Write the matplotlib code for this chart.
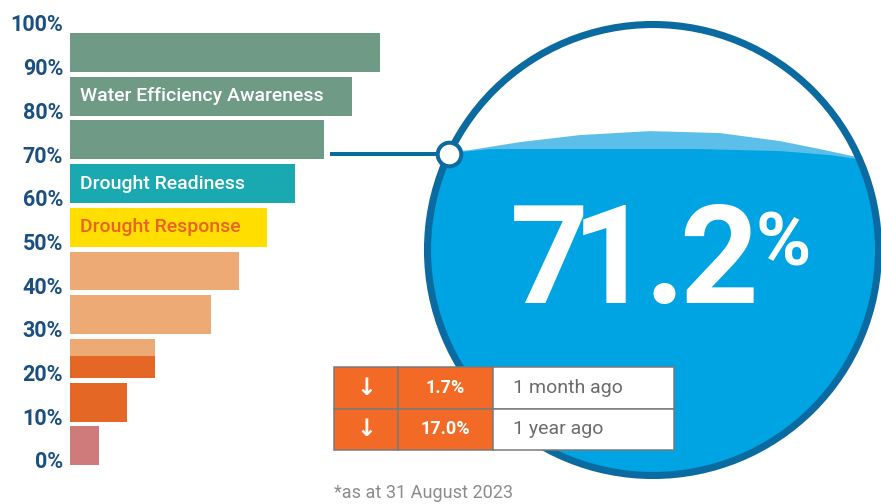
import numpy as np
import matplotlib
matplotlib.use("Agg")
import matplotlib.pyplot as plt
from matplotlib.patches import Circle, Rectangle, Polygon

plt.rcParams["font.family"] = ["Roboto", "DejaVu Sans"]

# storage level bands (% of capacity) and the length of each bar
band_lo = [0, 10, 20, 25, 30, 40, 50, 60, 70, 80, 90]
band_hi = [10, 20, 25, 30, 40, 50, 60, 70, 80, 90, 100]
bar_len = [29, 57, 85, 85, 141, 169, 197, 225, 254, 282, 310]
band_col = ["#cf7b7c", "#e56726", "#e56726", "#eeaa74", "#eeaa74", "#eeaa74",
            "#ffde00", "#1aa9b0", "#6f9a86", "#6f9a86", "#6f9a86"]

ticks = [0, 10, 20, 30, 40, 50, 60, 70, 80, 90, 100]
tick_labels = [f"{t}%" for t in ticks]

zone_names = ["Drought Response", "Drought Readiness", "Water Efficiency Awareness"]
zone_at = [50, 60, 80]
zone_txt_col = ["#e8622a", "white", "white"]

storage = 71.2
changes = ["1.7%", "17.0%"]
periods = ["1 month ago", "1 year ago"]
note = "*as at 31 August 2023"

dark_blue = "#0b6aa0"
water = "#00a4e3"
wave = "#5bbfe9"
orange = "#f26a25"

W, H = 881, 504
fig = plt.figure(figsize=(W / 100, H / 100), dpi=100)

# ---- bar scale
ax = fig.add_axes([70 / W, 0, (W - 70) / W, 1])
ax.set_xlim(0, W - 70)
ax.set_ylim(-10.07, 105.26)
off = 1.2
gap = 1.1
for lo, hi, ln, c in zip(band_lo, band_hi, bar_len, band_col):
    top = hi - off - (gap if hi % 10 == 0 else 0)
    ax.barh(lo - off, ln, height=top - (lo - off), left=0, align="edge",
            color=c, linewidth=0)
for name, lvl, tc in zip(zone_names, zone_at, zone_txt_col):
    yc = lvl - off + (10 - gap) / 2
    ax.text(10, yc, name, color=tc, fontsize=14, fontweight="medium",
            va="center", ha="left")
ax.set_yticks(ticks)
ax.set_yticklabels(tick_labels, fontsize=15.5, fontweight="bold", color="#1b4f80")
ax.tick_params(axis="y", length=0, pad=5)
ax.set_xticks([])
for s in ax.spines.values():
    s.set_visible(False)
ax.patch.set_alpha(0)

# ---- gauge overlay in pixel space
ov = fig.add_axes([0, 0, 1, 1], zorder=2)
ov.set_xlim(0, W)
ov.set_ylim(H, 0)
ov.axis("off")
ov.patch.set_alpha(0)

fig.canvas.draw()
disp = ax.transData.transform((0, storage - off))
ly = ov.transData.inverted().transform(disp)[1]

cx, cy, r = 653, 250, 225.5
ov.add_patch(Circle((cx, cy), r, fc="white", ec="none", zorder=1))
clip = Circle((cx, cy), r, transform=ov.transData)

light_top = [(430, 0), (470, -4), (520, -12), (580, -19), (650, -23),
             (720, -21), (780, -13), (820, -5), (885, 9)]
water_top = [(430, 1), (490, -5), (700, -5), (780, -3), (830, 1), (885, 9)]
for pts, c in [(light_top, wave), (water_top, water)]:
    poly = [(x, ly + d) for x, d in pts] + [(885, 500), (430, 500)]
    p = Polygon(poly, closed=True, fc=c, ec="none", zorder=2)
    ov.add_patch(p)
    p.set_clip_path(clip)

ov.add_patch(Circle((cx, cy), r, fc="none", ec=dark_blue, lw=5.1, zorder=3))

mx = cx - np.sqrt(r ** 2 - (ly - cy) ** 2)
idx = [i for i in range(len(band_lo)) if band_lo[i] <= storage < band_hi[i]][0]
x0 = 70 + bar_len[idx] + 6
ov.plot([x0, mx], [ly, ly], color=dark_blue, lw=2.9, solid_capstyle="butt", zorder=4)
ov.plot([mx], [ly], marker="o", ms=17, mfc="white", mec=dark_blue, mew=2.9, zorder=5)

# big figure, set tight like a condensed face
x = 518
for ch in f"{storage:.1f}":
    adv = 46 if ch == "." else 62
    ov.text(x + adv / 2, 303, ch, color="white", fontsize=99, fontweight="bold",
            ha="center", va="baseline", zorder=6)
    x += adv
ov.text(783, 265, "%", color="white", fontsize=54, fontweight="bold",
        ha="center", va="baseline", zorder=6)

# ---- change table
cols = [334, 398, 493, 674]
rows = [367, 409, 450]
for i, (chg, per) in enumerate(zip(changes, periods)):
    y0, y1 = rows[i], rows[i + 1]
    for j in range(3):
        fc = orange if j < 2 else "white"
        ov.add_patch(Rectangle((cols[j], y0), cols[j + 1] - cols[j], y1 - y0,
                               fc=fc, ec="#7a7a7a", lw=1.1, zorder=7))
    ym = (y0 + y1) / 2
    ov.text((cols[0] + cols[1]) / 2, ym, "\u2193", color="white", fontsize=17,
            fontweight="bold", ha="center", va="center", zorder=8,
            family=["DejaVu Sans"])
    ov.text((cols[1] + cols[2]) / 2, ym, chg, color="white", fontsize=13,
            fontweight="bold", ha="center", va="center", zorder=8)
    ov.text(cols[2] + 20, ym, per, color="#6b6b6b", fontsize=14,
            ha="left", va="center", zorder=8)

ov.text(334, 498, note, color="#8c8c8c", fontsize=13, ha="left", va="baseline")

fig.savefig("out.png", dpi=100)
